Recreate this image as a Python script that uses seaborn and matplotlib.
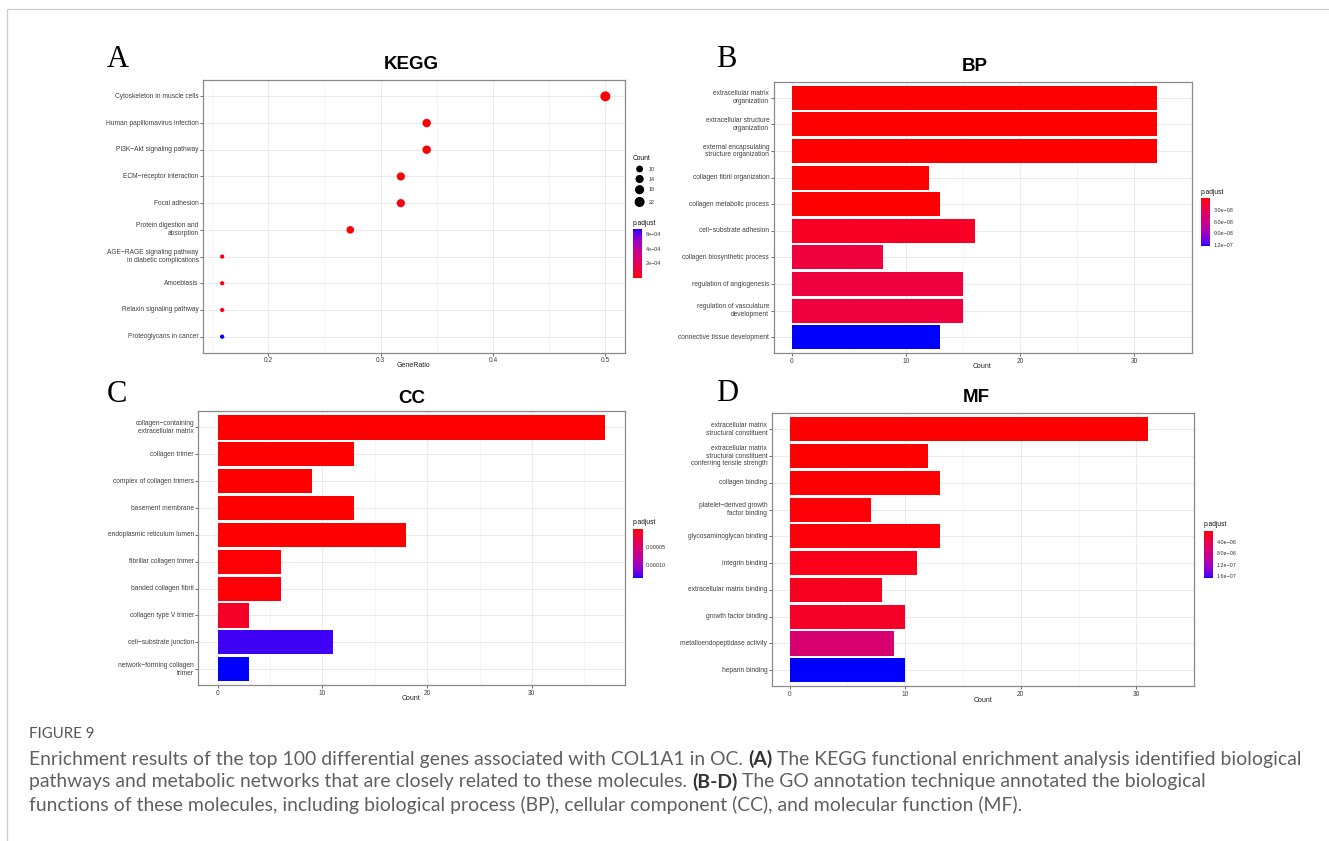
import numpy as np
import pandas as pd
import matplotlib
matplotlib.use("Agg")
import matplotlib.pyplot as plt
import seaborn as sns
from matplotlib.colors import ListedColormap, Normalize
from matplotlib.cm import ScalarMappable

# ---------------- data ----------------
kegg_terms = ["Cytoskeleton in muscle cells", "Human papillomavirus infection",
              "PI3K\u2212Akt signaling pathway", "ECM\u2212receptor interaction",
              "Focal adhesion", "Protein digestion and\nabsorption",
              "AGE\u2212RAGE signaling pathway\nin diabetic complications",
              "Amoebiasis", "Relaxin signaling pathway", "Proteoglycans in cancer"]
kegg_gene_ratio = [0.500, 0.341, 0.341, 0.318, 0.318, 0.273, 0.159, 0.159, 0.159, 0.159]
kegg_count = [22, 15, 15, 14, 14, 12, 7, 7, 7, 7]
kegg_padj = [1.2e-9, 4.5e-6, 4.5e-6, 6.0e-6, 2.2e-5, 1.0e-5, 2.5e-5, 2.1e-5, 2.9e-5, 6.7e-4]
kegg_xticks = [0.2, 0.3, 0.4, 0.5]
size_legend_counts = [10, 14, 18, 22]
kegg_cbar_ticks = [2e-4, 4e-4, 6e-4]
kegg_cbar_labels = ["2e\u221204", "4e\u221204", "6e\u221204"]

bp_terms = ["extracellular matrix\norganization", "extracellular structure\norganization",
            "external encapsulating\nstructure organization", "collagen fibril organization",
            "collagen metabolic process", "cell\u2212substrate adhesion",
            "collagen biosynthetic process", "regulation of angiogenesis",
            "regulation of vasculature\ndevelopment", "connective tissue development"]
bp_count = [32, 32, 32, 12, 13, 16, 8, 15, 15, 13]
bp_padj = [1e-12, 1e-12, 1e-12, 2e-10, 3e-10, 1.0e-8, 2.2e-8, 2.2e-8, 2.2e-8, 1.21e-7]
bp_cbar_ticks = [3e-8, 6e-8, 9e-8, 1.2e-7]
bp_cbar_labels = ["3.0e\u221208", "6.0e\u221208", "9.0e\u221208", "1.2e\u221207"]

cc_terms = ["collagen\u2212containing\nextracellular matrix", "collagen trimer",
            "complex of collagen trimers", "basement membrane", "endoplasmic reticulum lumen",
            "fibrillar collagen trimer", "banded collagen fibril", "collagen type V trimer",
            "cell\u2212substrate junction", "network\u2212forming collagen\ntrimer"]
cc_count = [37, 13, 9, 13, 18, 6, 6, 3, 11, 3]
cc_padj = [1e-12, 2e-8, 5e-8, 3e-7, 8e-7, 1.2e-6, 1.5e-6, 1.3e-5, 1.31e-4, 1.36e-4]
cc_cbar_ticks = [5e-5, 1e-4]
cc_cbar_labels = ["0.00005", "0.00010"]

mf_terms = ["extracellular matrix\nstructural constituent",
            "extracellular matrix\nstructural constituent\nconferring tensile strength",
            "collagen binding", "platelet\u2212derived growth\nfactor binding",
            "glycosaminoglycan binding", "integrin binding", "extracellular matrix binding",
            "growth factor binding", "metalloendopeptidase activity", "heparin binding"]
mf_count = [31, 12, 13, 7, 13, 11, 8, 10, 9, 10]
mf_padj = [1e-12, 5e-10, 1e-9, 2e-9, 3e-9, 8e-9, 1.2e-8, 1.6e-8, 6.5e-8, 1.68e-7]
mf_cbar_ticks = [4e-8, 8e-8, 1.2e-7, 1.6e-7]
mf_cbar_labels = ["4.0e\u221208", "8.0e\u221208", "1.2e\u221207", "1.6e\u221207"]
bar_xticks = [0, 10, 20, 30]

panel_titles = ["KEGG", "BP", "CC", "MF"]
panel_letters = ["A", "B", "C", "D"]

caption_head = "FIGURE 9"
caption_lines = [
    [("Enrichment results of the top 100 differential genes associated with COL1A1 in OC.", False),
     ("(A)", True), ("The KEGG functional enrichment analysis identified biological", False)],
    [("pathways and metabolic networks that are closely related to these molecules.", False),
     ("(B-D)", True), ("The GO annotation technique annotated the biological", False)],
    [("functions of these molecules, including biological process (BP), cellular component (CC), and molecular function (MF).", False)],
]

# ---------------- style ----------------
sns.set_style("white")
plt.rcParams["font.family"] = ["Liberation Sans", "DejaVu Sans"]

W, H = 1329, 841
fig = plt.figure(figsize=(W / 100, H / 100), dpi=100)


def px_rect(l, t, r, b):
    return [l / W, 1 - b / H, (r - l) / W, (b - t) / H]


# ggplot-like red -> blue ramp interpolated in CIELAB
_M = np.array([[0.4124564, 0.3575761, 0.1804375],
               [0.2126729, 0.7151522, 0.0721750],
               [0.0193339, 0.1191920, 0.9503041]])
_WP = np.array([0.95047, 1.0, 1.08883])


def _to_lab(rgb):
    c = np.asarray(rgb, float)
    lin = np.where(c <= 0.04045, c / 12.92, ((c + 0.055) / 1.055) ** 2.4)
    xyz = _M @ lin / _WP
    f = np.where(xyz > 216 / 24389, np.cbrt(xyz), (24389 / 27 * xyz + 16) / 116)
    return np.array([116 * f[1] - 16, 500 * (f[0] - f[1]), 200 * (f[1] - f[2])])


def _from_lab(lab):
    L, a, b = lab
    fy = (L + 16) / 116
    f = np.array([fy + a / 500, fy, fy - b / 200])
    xyz = np.where(f ** 3 > 216 / 24389, f ** 3, (116 * f - 16) / (24389 / 27)) * _WP
    lin = np.clip(np.linalg.inv(_M) @ xyz, 0, 1)
    c = np.where(lin <= 0.0031308, 12.92 * lin, 1.055 * lin ** (1 / 2.4) - 0.055)
    return np.clip(c, 0, 1)


_l1, _l2 = _to_lab([1, 0, 0]), _to_lab([0, 0, 1])
cmap = ListedColormap([_from_lab(_l1 + (_l2 - _l1) * t) for t in np.linspace(0, 1, 256)])


def style_axes(ax, xticks, minor, xlim, xlabel, label_y_px, bottom_px, top_px):
    ax.set_xlim(*xlim)
    ax.set_ylim(9.6, -0.6)
    ax.set_xticks(xticks)
    ax.set_xticks(minor, minor=True)
    ax.set_xticklabels([("%g" % v) for v in xticks])
    ax.grid(False)
    ax.grid(which="major", axis="both", color="#ebebeb", lw=0.8)
    ax.grid(which="minor", axis="x", color="#f0f0f0", lw=0.5)
    ax.set_axisbelow(True)
    for sp in ax.spines.values():
        sp.set_visible(True)
        sp.set_color("#8a8a8a")
        sp.set_linewidth(0.9)
    ax.tick_params(axis="both", which="major", length=2, width=0.5, color="#333333",
                   labelsize=4.8, labelcolor="#404040", pad=1.2,
                   bottom=True, left=True)
    ax.tick_params(which="minor", length=0)
    ax.set_ylabel("")
    ax.set_xlabel(xlabel, fontsize=5, color="#222222", va="center")
    ax.xaxis.set_label_coords(0.5, -(label_y_px - bottom_px) / (bottom_px - top_px))
    for lbl in ax.get_yticklabels():
        lbl.set_linespacing(1.15)
        lbl.set_va("center")


def add_cbar(rect_px, padj, ticks, labels, reverse):
    l, t, r, b = rect_px
    cax = fig.add_axes(px_rect(l, t, r, b))
    norm = Normalize(min(padj), max(padj))
    cb = fig.colorbar(ScalarMappable(norm=norm, cmap=cmap), cax=cax)
    cb.outline.set_visible(False)
    cb.set_ticks(ticks, labels=labels)
    cax.tick_params(direction="in", length=1.8, width=0.5, color="white",
                    left=True, right=True, labelleft=False, labelright=True,
                    labelsize=3.9, labelcolor="#333333", pad=2.5)
    cax.minorticks_off()
    if reverse:
        cax.invert_yaxis()
    return norm


# ---------------- Panel A: KEGG dot plot ----------------
axA = fig.add_axes(px_rect(203, 80.3, 624.5, 352.7))
dfA = pd.DataFrame({"Description": kegg_terms, "GeneRatio": kegg_gene_ratio,
                    "Count": kegg_count, "p.adjust": kegg_padj})
normA = Normalize(min(kegg_padj), max(kegg_padj))
cmin, cmax = min(kegg_count), max(kegg_count)
D_MIN, D_MAX = 4.3, 10.0  # dot diameters in px


def dot_diam(c):
    return D_MIN + (D_MAX - D_MIN) * np.sqrt(max(c - cmin, 0) / (cmax - cmin))


size_dict = {c: (dot_diam(c) * 0.72) ** 2 for c in sorted(set(kegg_count))}
sns.scatterplot(data=dfA, x="GeneRatio", y="Description", hue="p.adjust",
                hue_norm=normA, palette=cmap, size="Count", sizes=size_dict,
                legend=False, edgecolor="none", linewidth=0, ax=axA, zorder=3)
span = max(kegg_gene_ratio) - min(kegg_gene_ratio)
style_axes(axA, kegg_xticks, [0.15, 0.25, 0.35, 0.45],
           (min(kegg_gene_ratio) - 0.05 * span, max(kegg_gene_ratio) + 0.05 * span),
           "GeneRatio", 366, 352.7, 80.3)
add_cbar((633, 229, 642, 277.7), kegg_padj, kegg_cbar_ticks, kegg_cbar_labels, False)


# ---------------- bar panels ----------------
def bar_panel(rect, terms, counts, padj, cbar_rect, ticks, labels, label_y):
    l, t, r, b = rect
    ax = fig.add_axes(px_rect(l, t, r, b))
    norm = Normalize(min(padj), max(padj))
    colors = {term: cmap(norm(p)) for term, p in zip(terms, padj)}
    df = pd.DataFrame({"Description": terms, "Count": counts})
    sns.barplot(data=df, x="Count", y="Description", hue="Description", palette=colors,
                legend=False, orient="h", width=0.9, saturation=1, errorbar=None,
                edgecolor="none", linewidth=0, ax=ax, zorder=3)
    mx = max(counts)
    style_axes(ax, bar_xticks, [5, 15, 25, 35], (-0.05 * mx, 1.05 * mx),
               "Count", label_y, b, t)
    add_cbar(cbar_rect, padj, ticks, labels, True)
    return ax


bar_panel((773.6, 81.7, 1191.5, 353.3), bp_terms, bp_count, bp_padj,
          (1200.5, 197.7, 1210, 245.7), bp_cbar_ticks, bp_cbar_labels, 366.5)
bar_panel((198.4, 411.3, 624.5, 685.3), cc_terms, cc_count, cc_padj,
          (633, 529, 642.7, 578), cc_cbar_ticks, cc_cbar_labels, 699)
bar_panel((771.7, 413.3, 1194.2, 686.3), mf_terms, mf_count, mf_padj,
          (1203.5, 530.5, 1213.3, 578.3), mf_cbar_ticks, mf_cbar_labels, 700)

# ---------------- overlay (pixel coordinates) ----------------
ov = fig.add_axes([0, 0, 1, 1])
ov.set_xlim(0, W)
ov.set_ylim(H, 0)
ov.axis("off")
ov.patch.set_visible(False)

# outer frame
ov.plot([7, W], [9, 9], color="#cccccc", lw=0.9, solid_capstyle="butt")
ov.plot([7, 7], [9, H], color="#cccccc", lw=0.9, solid_capstyle="butt")

# panel titles and letters
for (x, y), s in zip([(411.5, 64), (975, 66), (412, 398), (976, 397.7)], panel_titles):
    ov.text(x, y, s, fontsize=13.5, fontweight="bold", ha="center", va="center",
            color="black", family=["Liberation Sans", "DejaVu Sans"])
for (x, y), s in zip([(107, 67), (716, 67), (107, 401.5), (716, 401)], panel_letters):
    ov.text(x, y, s, fontsize=22, ha="left", va="baseline", color="black",
            family=["Liberation Serif", "DejaVu Serif"])

# legend texts
for x, y in [(633, 223.7), (1200.5, 192), (633, 523), (1203.5, 524.7)]:
    ov.text(x, y, "p.adjust", fontsize=4.8, ha="left", va="center", color="#111111")
ov.text(633, 158.3, "Count", fontsize=4.8, ha="left", va="center", color="#111111")
leg_y = [169, 179, 189.7, 202]
ov.scatter([639.6] * len(size_legend_counts), leg_y,
           s=[(dot_diam(c) * 0.72) ** 2 for c in size_legend_counts],
           color="black", edgecolor="none")
for c, y in zip(size_legend_counts, leg_y):
    ov.text(648.5, y, str(c), fontsize=3.9, ha="left", va="center", color="#333333")

# caption
renderer = fig.canvas.get_renderer()
CAP_FONT = ["Lato", "Open Sans", "DejaVu Sans"]
CAP_W = "normal"


def measure(s, size, bold):
    t = ov.text(0, 0, s, fontsize=size, family=CAP_FONT,
                fontweight="bold" if bold else CAP_W)
    w = t.get_window_extent(renderer=renderer).width
    t.remove()
    return w


def line_width(segs, size):
    sp = measure("x x", size, False) - measure("xx", size, False)
    return sum(measure(s, size, b) for s, b in segs) + sp * (len(segs) - 1)


ref_size = 12.0
cap_size = ref_size * (1297 - 29) / line_width(caption_lines[0], ref_size)

ov.text(29, 734, caption_head, fontsize=10.8, family=CAP_FONT, color="#555555",
        ha="left", va="center")
space_w = measure("x x", cap_size, False) - measure("xx", cap_size, False)
for segs, y in zip(caption_lines, [759, 782, 805]):
    x = 29
    for s, bold in segs:
        t = ov.text(x, y, s, fontsize=cap_size, family=CAP_FONT,
                    fontweight="bold" if bold else CAP_W,
                    color="#333333" if bold else "#606060", ha="left", va="center")
        x += t.get_window_extent(renderer=renderer).width + space_w

fig.savefig("out.png", dpi=100)
